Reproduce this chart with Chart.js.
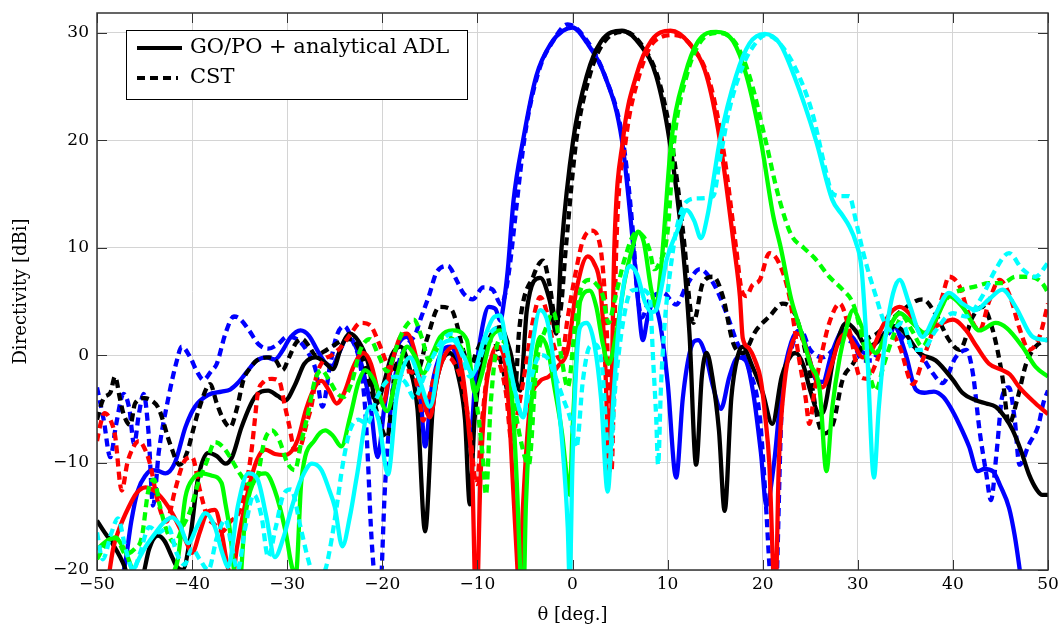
<!DOCTYPE html>
<html>
<head>
<meta charset="utf-8">
<script src="https://cdn.jsdelivr.net/npm/chart.js@4.4.1/dist/chart.umd.min.js"></script>
<style>
  html, body { margin:0; padding:0; background:#fff; }
  #wrap { width:1061px; height:627px; }
</style>
</head>
<body>
<div id="wrap"><canvas id="chart" width="1061" height="627"></canvas></div>
<script>
// ---------- DATA (theta [deg], directivity [dBi]) ----------
const X_TICKS = [-50,-40,-30,-20,-10,0,10,20,30,40,50];
const Y_TICKS = [-20,-10,0,10,20,30];
const LEGEND_LABELS = ["GO/PO + analytical ADL", "CST"];

// beam 0 deg (blue)
const blueGo = [[-50,-27],[-48.5,-23],[-47.1,-19.7],[-46.4,-15.5],[-45.7,-12.6],[-44.9,-11.2],[-44.2,-10.7],[-43.5,-10.8],[-42.8,-11],[-41.8,-10],[-40.7,-6.7],[-39.7,-4.8],[-38.3,-3.7],[-36.9,-3.4],[-36,-3.2],[-35.2,-2.6],[-34.2,-1.5],[-33.2,-0.5],[-32.2,-0.2],[-31.3,-0.4],[-30.5,0.4],[-29.7,1.6],[-28.6,2.3],[-27.7,1.8],[-26.8,0.4],[-26,-0.7],[-25.3,-1],[-24.5,0.3],[-23.7,1.6],[-22.9,1],[-22,-1.5],[-21.2,-5],[-20.5,-9.5],[-19.8,-5],[-19,-0.8],[-18.2,1.2],[-17.4,1.7],[-16.7,0.3],[-16,-3.5],[-15.5,-8.5],[-14.8,-3],[-13.8,0.2],[-12.8,0.8],[-11.9,-1.5],[-11.3,-5],[-10.8,-8.5],[-10.2,-2],[-9.5,2.5],[-8.8,4.5],[-8.1,4.3],[-7.6,3.2],[-7.2,5],[-6.8,8],[-6.2,14.4],[-5.2,20],[-3.8,26],[-2.2,29.1],[-1,30.2],[0,30.5],[1.5,29.1],[3.4,26],[5.2,20],[6.4,10],[6.9,5],[7.4,1.4],[7.9,3.5],[8.5,4.8],[9.2,3],[10,-2.5],[10.9,-11.4],[11.6,-4],[12.4,0.5],[13.2,1.4],[14,0],[14.8,-3],[15.6,-5],[16.5,-2],[17.4,-0.2],[18.2,-0.5],[19,-3.5],[19.8,-9],[20.4,-14],[21.2,-10],[22,-3],[23,1.2],[23.9,2.3],[24.8,0],[25.6,-2.3],[26.3,-2.5],[27.3,0.3],[28.5,2.3],[29.5,1.6],[30.7,0.2],[32,1.2],[33.8,2.7],[35,0.2],[36.1,-3.2],[37,-3.5],[38,-3.4],[39,-3.9],[39.7,-4.8],[40.7,-6.5],[41.7,-8.5],[42.6,-10.8],[43.3,-10.6],[44.2,-10.8],[45,-12.2],[45.9,-14.2],[46.5,-16.8],[47,-19.8],[47.6,-24]];
const blueCst = [[-50,-3],[-49.3,-6],[-48.6,-9.5],[-48,-6.5],[-47.2,-3.6],[-46.6,-5],[-46.1,-8.3],[-45.6,-5.5],[-45.1,-3.6],[-44.6,-7],[-44.1,-14],[-43.5,-9],[-42.5,-4],[-41.6,-0.5],[-41.1,0.8],[-40.2,-0.2],[-39.5,-1.5],[-38.8,-2.3],[-38,-1.5],[-37.4,-0.8],[-36.5,2],[-35.6,3.6],[-35,3.4],[-34,2.3],[-33,1],[-32,0.6],[-31,1],[-30,1.7],[-29,1.5],[-28,0.5],[-27,-1.4],[-26.3,-4.8],[-25.5,-1],[-24.8,1.8],[-24,2.7],[-23.2,1.5],[-22.3,-1],[-21.8,-5],[-21.5,-10],[-21.2,-16],[-20.9,-20],[-20.4,-25],[-19.7,-12],[-19,-4],[-18.2,-0.5],[-17.3,1],[-16.5,2],[-16,3.3],[-15.1,5.5],[-14.3,7.7],[-13.1,8.3],[-12.2,7],[-11.5,5.8],[-10.5,5.2],[-9.4,6.3],[-8.4,6.1],[-7.5,4.7],[-7,6],[-6.5,9],[-6,13],[-5,20.5],[-3.6,26.3],[-2,29.3],[-0.5,30.8],[1.5,29.3],[3.4,26],[5.3,20],[6.3,12],[6.8,6],[7.3,3.5],[8,5],[9.5,5.8],[10.9,4.7],[12,6.5],[13.4,8],[14.8,6.7],[16.2,3.9],[17.2,1.4],[18.6,-1.4],[19.7,-5.8],[20.3,-13.3],[20.7,-19.5],[21.2,-26],[22,-5],[23,0.5],[24,2.3],[25,0.5],[26.3,-0.2],[27.4,0.5],[28.4,1.4],[29.5,1.1],[30.5,-0.5],[31.5,-0.5],[32.5,1],[33.7,2.3],[34.7,1.7],[36.5,0.2],[37.9,-1.7],[38.9,-2.6],[40.3,-0.2],[41.4,0.5],[42.1,-1.7],[42.8,-7],[43.5,-11],[44,-13.5],[44.6,-9],[45.2,-3.8],[45.9,-3],[46.5,-6],[47,-10.2],[48,-8.3],[49,-6.5],[49.5,-4.5],[50,-3.3]];

// beam 5 deg (black)
const blackGo = [[-50,-15.4],[-49.2,-16.5],[-48.4,-17.5],[-47.1,-19.7],[-46.3,-22],[-45.3,-21],[-44.5,-18],[-43.6,-16.8],[-42.9,-17.3],[-42.1,-18.8],[-41.6,-19.7],[-41,-20],[-40.2,-17],[-39.4,-11.6],[-38.3,-9.1],[-37.4,-9.4],[-36.5,-10.1],[-35.8,-9.5],[-34.8,-6.7],[-33.4,-3.9],[-32,-3.3],[-31,-3.8],[-30.2,-4.2],[-29.2,-2.8],[-28.2,-0.8],[-27,-0.2],[-26,-0.7],[-25.2,-1.3],[-24.3,0.8],[-23.4,2],[-22.5,1.3],[-21.5,-0.7],[-20.6,-4.5],[-19.8,-2.5],[-19,0],[-18.1,0.8],[-17.2,-1],[-16.3,-5],[-15.5,-16.4],[-14.7,-5],[-13.9,-1],[-12.9,0.2],[-12,-2],[-11.3,-6],[-10.8,-13.9],[-10.3,-6],[-9.5,-0.5],[-8.5,2],[-7.6,2.6],[-6.6,0.5],[-5.5,-3.3],[-4.8,4.2],[-3.4,7.2],[-2.4,5.1],[-1.7,2],[-1.15,10],[0.07,20],[1.5,26],[3,29.2],[5.2,30.2],[7.2,28.8],[8.8,26],[10.2,20],[11.6,10],[12.3,2],[13,-10.2],[13.6,-2],[14.1,0.2],[14.7,-2],[15.4,-7],[16,-14.5],[16.7,-4],[17.4,0],[17.9,0.8],[18.8,-0.8],[20,-3.5],[21,-6.4],[22,-2],[23,0],[23.5,0.2],[24.3,-1],[25,-3.3],[26,-5.5],[26.5,-5],[27.5,0],[28.8,3],[30,2],[30.9,0.8],[32,1.2],[33,2.2],[34,2.7],[35,2],[36.5,0.2],[38.2,-0.5],[40,-2.3],[41,-3.5],[42.4,-4.2],[43.5,-4.5],[44.5,-4.8],[45.5,-5.8],[46.3,-7],[47.2,-9],[48,-11.1],[48.8,-12.5],[49.4,-13],[50,-13]];
const blackCst = [[-50,-6],[-49.3,-4],[-48.6,-3.5],[-48.1,-2],[-47.6,-4],[-47.2,-5.5],[-46.5,-6.5],[-46,-4.5],[-45,-4],[-44.3,-4.2],[-43.5,-5],[-42.3,-8.3],[-41.3,-10.2],[-40.5,-9],[-39.9,-7],[-39.2,-4.8],[-38.1,-2.7],[-37.4,-4.5],[-36.7,-6],[-36,-6.7],[-35.3,-5],[-34.6,-2.3],[-33.9,-1.2],[-33.2,-0.5],[-31.9,-0.2],[-31.2,-0.5],[-30.5,-1.4],[-29.8,-0.2],[-29.1,1.1],[-28.4,1.5],[-27.7,0.8],[-27,0],[-26.2,0.3],[-25.3,0.8],[-24.1,1.4],[-23.2,1.5],[-22.2,0],[-21.2,-3],[-20.5,-5.5],[-19.5,-7.7],[-18.5,-0.8],[-17.5,-0.8],[-16.4,-1.7],[-15.3,1.5],[-14,4.5],[-12.7,4.2],[-12.2,3],[-11.5,0.5],[-10.8,-1.1],[-10,0.5],[-9.4,1.4],[-8.4,1.4],[-7.3,-1.4],[-6.6,-4],[-6,-3],[-5.6,2.4],[-4.1,7.4],[-3.1,8.8],[-2.4,6.5],[-1.8,3.4],[-1.3,4],[-0.7,10],[0.4,20],[1.8,26],[3.2,29],[5.5,30.1],[7.5,28.6],[9.1,25.5],[10.4,20],[11.8,10],[12.3,5],[12.7,3],[13.7,6.7],[14.8,7.3],[15.8,5.5],[16.9,1.1],[17.9,0.2],[19.3,2.3],[20.7,3.6],[22.1,4.8],[23.5,3.6],[24.9,-1.4],[25.9,-6.4],[26.5,-7.3],[27.4,-6.4],[28.4,-2.3],[29.5,-0.8],[30.9,1.4],[32,2],[33.2,3],[34.7,4.2],[36.8,5.2],[38.2,3.8],[39.6,1.4],[40.7,0.5],[42.1,3.6],[43.1,4.5],[44.2,2.3],[45.2,-2],[45.9,-6.4],[46.8,-4],[47.7,-0.8],[48.7,0.8],[50,1.5]];

// beam 10 deg (red)
const redGo = [[-50,-27],[-49,-22],[-48.3,-18],[-47.8,-16.5],[-46.7,-14.2],[-45.8,-12.8],[-44.9,-12.3],[-43.6,-12.9],[-42.1,-14.7],[-40.7,-17.2],[-40,-18.4],[-39.2,-16.5],[-38.4,-14.6],[-37.6,-14.4],[-36.9,-16.5],[-36.3,-19.5],[-35.8,-21],[-35.3,-18],[-34.1,-12.6],[-33.2,-9.8],[-32.3,-8.8],[-31.3,-9.2],[-30.2,-9.3],[-28.9,-7.9],[-28,-5],[-27.1,-3],[-26.4,-2.4],[-25.6,-3.3],[-24.8,-4.5],[-24,-3.5],[-23,-1],[-22,0.2],[-21.2,-0.8],[-20.4,-3.5],[-19.9,-4.5],[-19.2,-1.5],[-18.1,1.7],[-17.4,2],[-16.5,0],[-15.7,-4],[-15,-5.8],[-14.2,-2],[-13.3,0.2],[-12.4,0.8],[-11.6,-1.5],[-10.9,-7],[-10.5,-12],[-10.3,-20],[-10.1,-24],[-9.7,-12],[-9.2,-4],[-8.6,-0.5],[-8,0.8],[-7.3,0.2],[-6.8,-3.5],[-6.3,-11.4],[-5.9,-18],[-5.6,-22],[-5.2,-14],[-4.5,-5],[-3.5,-2.5],[-2.5,-2],[-1.5,-1],[-0.5,0.5],[0.4,6],[1.6,9.2],[2.3,8.5],[2.9,6.5],[3.4,0],[3.9,-10.8],[4.4,10],[5.3,20],[6.7,26],[8.3,29.3],[10.3,30.2],[12.3,29],[14.1,26],[15.5,20],[17,10],[17.6,5.5],[17.9,1.6],[18.5,0.7],[19.2,-0.5],[19.8,-2.3],[20.3,-6],[20.7,-10.2],[21.1,-20],[21.3,-24],[21.7,-10],[22.3,-2.5],[23,0.8],[23.8,2],[24.5,0.8],[25.3,-1.5],[26.3,-3],[27.2,-1],[28,1.3],[28.8,2],[29.6,1],[30.5,-0.2],[31.5,0.5],[32.5,2.5],[33.5,4],[34.4,4.5],[35.4,3.9],[36.8,2],[37.8,2.5],[38.9,3],[40,3.3],[41.4,2.3],[42.5,0.8],[43.8,-0.8],[45.2,-1.4],[46,-1.8],[47,-3],[48.7,-4.5],[50,-5.5]];
const redCst = [[-50,-8],[-49.6,-6.3],[-49.2,-5.4],[-48.6,-6],[-48.1,-7.5],[-47.4,-12.6],[-46.8,-10],[-46.2,-8.6],[-45.6,-8],[-45.1,-8.5],[-44.4,-10.2],[-43.7,-13.3],[-42.7,-15.5],[-41.8,-12.6],[-40.9,-10],[-40,-9.5],[-39.2,-12.5],[-38.4,-15],[-37.6,-15.8],[-36.8,-16.4],[-36,-15.5],[-35,-14.5],[-34.1,-11],[-33.7,-8.5],[-33.4,-6],[-33.1,-3.6],[-32.5,-2.5],[-31.6,-2.2],[-30.8,-2.5],[-30.3,-4.5],[-29.8,-6.5],[-29.2,-8.8],[-28.6,-8.5],[-28,-6.5],[-27.4,-4.5],[-27,-2.2],[-26.2,-0.5],[-25.3,0],[-24.3,0.8],[-23.3,2],[-22.3,3],[-21.3,2.8],[-20.3,1],[-19.4,-1],[-18.4,-2],[-17.4,-1.5],[-16.7,-1.7],[-16.2,-3.5],[-15.7,-6.1],[-15.1,-4],[-14.2,-1],[-13.2,-0.2],[-12.6,-0.5],[-11.5,-3],[-10.8,-7],[-10.1,-12],[-9.5,-6],[-9,-2],[-8.3,0],[-7.6,-1],[-7,-3.5],[-6.4,-8],[-5.8,-5.5],[-5,-1.5],[-4.2,3],[-3.4,5.4],[-2.7,4],[-2,1],[-1.2,-0.5],[-0.5,3.5],[0.4,8],[1.1,10.7],[2,11.6],[2.9,10.2],[3.6,2.3],[4.1,-10.8],[4.6,10],[5.6,20],[7,26],[8.6,29.2],[10.8,29.8],[12.6,28.7],[14.4,25.5],[15.8,19.5],[17.2,10],[17.8,6],[18.3,5.5],[18.9,6.5],[19.7,7],[20.7,9.5],[21.7,8.6],[22.8,5.5],[23.8,-0.2],[24.5,-3.9],[24.9,-6.4],[25.5,-3],[26.3,0.5],[27,3],[28.1,4.8],[29.2,2],[30.2,-2],[31,-2.2],[31.9,-0.8],[33.3,2.3],[34.4,0.8],[35.8,-2.7],[36.8,-0.5],[37.9,2.3],[38.9,5.5],[39.6,7.3],[40.7,6.4],[41.6,4],[42.8,2.3],[43.8,5],[44.9,7],[46,5.5],[47,2.5],[48,0.5],[49.1,1.7],[50,4.8]];

// beam 15 deg (green)
const greenGo = [[-50,-18.1],[-49,-17.3],[-48.1,-17],[-47.3,-17.8],[-46.4,-19.7],[-45.6,-23],[-44.5,-25],[-43.2,-23],[-42.1,-20.5],[-41.5,-19],[-40.7,-13.2],[-39.9,-11.5],[-39,-11],[-38,-11.2],[-36.9,-11.9],[-36.5,-13.8],[-36,-16.5],[-35.6,-20],[-35.2,-23],[-34.4,-15],[-33.4,-11.6],[-32.3,-11],[-31.3,-12.6],[-30.2,-16.3],[-29.5,-19.7],[-29.1,-20.5],[-28.5,-11.6],[-27.1,-7.9],[-26,-7],[-25.2,-7.5],[-24.3,-8.5],[-23.4,-5.8],[-22.5,-2.5],[-21.8,-1.4],[-20.9,-2.3],[-19.5,-5.2],[-18.5,-2],[-17.4,0.8],[-16.5,-0.2],[-15.7,-1.7],[-14.8,0],[-13.9,1.7],[-12.6,2.3],[-11.1,1.4],[-10.3,-3.5],[-9.6,-2],[-8.6,1.5],[-7.6,2.3],[-6.8,0],[-6.2,-6],[-5.8,-13],[-5.5,-20],[-5.2,-24],[-4.9,-14],[-4.2,-3],[-3.4,1.7],[-2.6,0.5],[-1.9,-3],[-1.1,-7.3],[-0.6,-11.3],[-0.3,-13],[0,-7],[0.4,0],[0.8,5],[1.8,6],[2.5,4.5],[3.2,1],[3.8,-0.8],[4.6,2],[5.5,7],[6.3,10],[6.9,11.5],[7.5,10.5],[8.3,6],[8.8,4.5],[9.2,7],[9.5,10],[10.4,20],[11.8,26],[13.2,29.2],[15.1,30.1],[16.9,29.2],[18.3,26],[19.8,20],[21.1,13],[21.9,10],[23,5.2],[24,2.3],[25,-0.8],[26,-3.3],[26.7,-10.8],[27.3,-5],[28.1,-0.2],[28.8,2.5],[29.5,4.2],[30.5,2.5],[31.9,0.2],[33,2],[34.4,3.9],[35.5,3.2],[37.2,2],[38.3,3.5],[39.6,5.5],[41,4.5],[42.8,2.3],[44.5,3],[45.7,2.5],[47.3,0.8],[48.7,-1.1],[50,-2]];
const greenCst = [[-50,-19],[-49,-17.5],[-48,-17],[-47,-18.5],[-46,-18],[-45.3,-17],[-44.6,-12.6],[-44,-11.6],[-43.4,-14],[-42.6,-16.5],[-41.8,-17.5],[-41,-16],[-40.2,-14.5],[-39.4,-12],[-38.5,-10],[-37.6,-8.1],[-36.7,-8.6],[-36,-9.5],[-35,-11],[-34,-12],[-33.2,-11.5],[-32.4,-8],[-31.6,-7],[-30.8,-8],[-30,-10],[-29.2,-10.7],[-28.5,-8],[-27.8,-5.4],[-27.1,-2.4],[-26.4,-1.4],[-25.6,-2.3],[-24.8,-3.5],[-24.1,-3.9],[-23.2,-2.5],[-22.3,0.5],[-21.3,1.5],[-20.4,0],[-19.5,-1.5],[-18.6,0.5],[-17.8,2.3],[-16.7,3.3],[-15.8,1.5],[-15.1,-0.5],[-14.3,0.5],[-13.6,1.7],[-12.6,1.5],[-11.6,0.5],[-10.6,-2],[-10,-5],[-9.4,-9.8],[-9.1,-13],[-8.6,-4.5],[-7.7,1.4],[-7,1],[-6.3,-3.5],[-5.5,-7.7],[-4.6,-10.2],[-3.8,-1],[-2.8,2.5],[-2,4],[-1.2,0],[-0.5,-3],[0.3,3],[0.9,6.2],[1.8,7],[2.6,6.5],[3.2,5.5],[3.8,3],[4.4,5],[5.5,9],[6.7,11.4],[7.5,11],[8.1,9.8],[8.6,8],[9.1,8.5],[10,11.5],[10.7,20],[12,26],[13.4,29.1],[15.3,30],[17.1,29.1],[18.6,26],[20.3,20],[21.6,15],[23,11.2],[24.3,10],[25.5,9],[27,7.3],[28.4,6.1],[29.5,4.8],[30.5,1.5],[31.3,-2],[31.9,-3.3],[32.7,-1],[33.7,1.7],[34.7,3.6],[35.7,2.3],[36.8,0.8],[38.2,3.6],[39.6,5.5],[41,6.1],[42.4,6.4],[43.8,6.7],[45.2,6.7],[46.6,7.3],[48,7.3],[49.4,6.7],[50,5.8]];

// beam 20 deg (cyan)
const cyanGo = [[-50,-24],[-48.5,-25],[-47,-22],[-46,-19.7],[-45,-18],[-43.9,-16.6],[-43,-15.6],[-42.1,-15.1],[-41.3,-15.8],[-40.4,-17.5],[-39.5,-16],[-38.6,-14.7],[-37.6,-16],[-36.8,-18.5],[-36.2,-19.7],[-35.2,-14.1],[-34.1,-11],[-33.1,-11.6],[-32.2,-15],[-31.3,-18.8],[-30.4,-17],[-29.5,-14.1],[-28.5,-11.5],[-27.4,-10.1],[-26.4,-10.7],[-25.6,-12.5],[-25,-14.1],[-24.2,-17.8],[-23.4,-15],[-22.7,-11.4],[-21.3,-4.8],[-20.4,-6],[-19.4,-11.1],[-18.5,-3.9],[-17.1,-0.2],[-16,-2.5],[-15,-4.8],[-13.6,1.1],[-12.6,1.4],[-11.5,0],[-10.5,-1.7],[-9.3,1.5],[-8.3,3.5],[-7.6,3.7],[-6.8,0],[-6,-3.5],[-5.2,-5.8],[-4.3,0.5],[-3.4,4.2],[-2.6,3],[-1.8,-2],[-1.1,-8],[-0.5,-16],[-0.3,-21],[0,-10],[0.4,-1],[0.8,2.6],[1.5,3],[2.3,1],[3,-4],[3.7,-12.7],[4.3,-4],[5,4],[6,8.3],[6.8,7.5],[7.6,5],[8.3,4],[8.8,4.2],[9.4,6.5],[9.9,8.9],[11,11.5],[12,13.5],[12.8,12.5],[13.5,10.9],[14.2,13],[15.5,20],[17.2,26],[18.6,29],[20.2,29.9],[21.8,29],[23.3,26],[25.6,20],[27.3,14.5],[28.4,13],[29.1,12],[29.8,10.5],[30.4,8],[31,0],[31.7,-11.4],[32.2,-5],[33,2.3],[34.4,7],[35.4,4.8],[36.8,1.7],[38,3.5],[39.6,5.8],[41,4.8],[42.4,4.2],[43.8,5.2],[45.2,6.1],[46.6,4.5],[48.4,1.7],[50,1.4]];
const cyanCst = [[-50,-16.5],[-49.4,-19],[-48.5,-16.6],[-47.8,-15.2],[-47,-18],[-46.2,-20],[-45.5,-18.5],[-44.5,-16],[-43.5,-16.5],[-42.5,-16],[-41.6,-18.5],[-40.8,-19.5],[-40,-18],[-39.2,-19],[-38.3,-20],[-37.4,-17],[-36.5,-15.3],[-35.8,-18],[-35.2,-20],[-34.4,-16],[-33.5,-13],[-32.7,-15],[-32,-18.8],[-31.2,-16],[-30.4,-13],[-29.6,-12.5],[-28.6,-16],[-27.8,-19],[-27,-21],[-26,-20],[-25.3,-17],[-24.7,-13.5],[-24.2,-10.4],[-23.4,-7],[-22.5,-6],[-21.6,-6.4],[-20.6,-4],[-19.6,-2.5],[-18.6,-2],[-17.6,-2.5],[-16.6,-4],[-15.6,-2],[-14.6,0],[-13.6,1.5],[-12.6,2],[-11.6,0],[-10.8,-2],[-10,-1],[-9,1.5],[-8,2.5],[-7,0],[-6,-3.5],[-5.2,-5.8],[-4.3,-2],[-3.4,0],[-2.7,-0.2],[-1.8,-2],[-1,-4],[-0.2,-6],[0.4,-8.6],[1.1,-2.3],[1.8,0.8],[2.4,1],[3.1,-1],[3.9,-10.2],[4.5,-3],[5.3,3],[6.2,6],[7.1,6.1],[8.1,5.5],[8.5,-0.8],[8.8,-5.8],[9,-10.2],[9.3,-3],[9.7,3],[10.3,8],[11,12],[12,14.3],[13.2,14.6],[14.8,14.8],[15.5,18.2],[16.5,22.9],[17.9,26.9],[19.3,29.1],[20.3,29.8],[21.7,29.1],[23.5,26.6],[25.2,22.6],[26.6,17.3],[27.3,15.1],[28.3,14.8],[29.1,14.8],[29.8,12.5],[30.5,9.8],[31.2,7.5],[31.9,5.5],[32.6,3.5],[33.5,2.3],[34.7,3],[35.8,0.5],[36.8,0.5],[38.2,2.3],[40,3.9],[41.4,3.6],[43.1,5.5],[44.5,8],[45.9,9.5],[47.3,8],[48.7,7.3],[50,8.6]];

// ---------- STYLE ----------
const FONT = '"DejaVu Serif", "Liberation Serif", serif';
const DASH = [8,5];

function toPoints(arr){ return arr.map(p=>({x:p[0], y:p[1]})); }

function line(data, color, dashed, order){
  return {
    data: toPoints(data),
    borderColor: color,
    borderWidth: 4.3,
    borderDash: dashed ? DASH : [],
    pointRadius: 0,
    fill: false,
    cubicInterpolationMode: 'monotone',
    clip: 0,
    order: order
  };
}

// ---------- PLUGINS ----------
const frameAndLegend = {
  id: 'frameAndLegend',
  afterDraw(chart){
    const {ctx, chartArea:a, scales} = chart;
    ctx.save();
    // inward tick marks
    ctx.strokeStyle = '#333';
    ctx.lineWidth = 1;
    ctx.beginPath();
    X_TICKS.forEach(v=>{
      const x = Math.round(scales.x.getPixelForValue(v)) + 0.5;
      ctx.moveTo(x, a.bottom); ctx.lineTo(x, a.bottom - 10);
      ctx.moveTo(x, a.top); ctx.lineTo(x, a.top + 10);
    });
    Y_TICKS.forEach(v=>{
      const y = Math.round(scales.y.getPixelForValue(v)) + 0.5;
      ctx.moveTo(a.left, y); ctx.lineTo(a.left + 10, y);
      ctx.moveTo(a.right, y); ctx.lineTo(a.right - 10, y);
    });
    ctx.stroke();
    // box
    ctx.lineWidth = 1.5;
    ctx.strokeStyle = '#333';
    ctx.strokeRect(a.left, a.top, a.right - a.left, a.bottom - a.top);

    // legend
    const lx = 126, ly = 30, lw = 341, lh = 69;
    ctx.fillStyle = '#fff';
    ctx.fillRect(lx, ly, lw, lh);
    ctx.lineWidth = 1;
    ctx.strokeStyle = '#000';
    ctx.strokeRect(lx + 0.5, ly + 0.5, lw, lh);
    ctx.lineWidth = 4;
    ctx.beginPath();
    ctx.setLineDash([]);
    ctx.moveTo(137, 48); ctx.lineTo(182, 48);
    ctx.stroke();
    ctx.beginPath();
    ctx.setLineDash([8,5]);
    ctx.moveTo(137, 78); ctx.lineTo(178, 78);
    ctx.stroke();
    ctx.setLineDash([]);
    ctx.fillStyle = '#000';
    ctx.font = '21px ' + FONT;
    ctx.textBaseline = 'middle';
    ctx.textAlign = 'left';
    ctx.fillText(LEGEND_LABELS[0], 190, 48);
    ctx.fillText(LEGEND_LABELS[1], 190, 78);
    ctx.restore();
  }
};

// ---------- CHART ----------
const minus = v => String(v).replace('-', '\u2212');

new Chart(document.getElementById('chart'), {
  type: 'line',
  data: {
    datasets: [
      line(cyanGo,  '#00ffff', false, 1),
      line(cyanCst, '#00ffff', true,  2),
      line(greenGo, '#00ff00', false, 3),
      line(greenCst,'#00ff00', true,  4),
      line(redGo,   '#ff0000', false, 5),
      line(redCst,  '#ff0000', true,  6),
      line(blackGo, '#000000', false, 7),
      line(blackCst,'#000000', true,  8),
      line(blueGo,  '#0000ff', false, 9),
      line(blueCst, '#0000ff', true,  10)
    ]
  },
  options: {
    responsive: false,
    animation: false,
    devicePixelRatio: 1,
    layout: { padding: { top: 13, right: 13, left: 0, bottom: 0 } },
    plugins: { legend: { display: false }, tooltip: { enabled: false } },
    scales: {
      x: {
        type: 'linear', min: -50, max: 50,
        afterBuildTicks: s => { s.ticks = X_TICKS.map(v=>({value:v})); },
        afterFit: s => { s.height = 57; s.paddingLeft = 0; s.paddingRight = 0; },
        grid: { color: '#d4d4d4', drawTicks: false },
        border: { display: false },
        ticks: { color: '#000', padding: 4, font: { family: FONT, size: 17 }, callback: minus, maxRotation: 0 },
        title: { display: true, text: 'θ [deg.]', color: '#000', font: { family: FONT, size: 18 }, padding: { top: 0, bottom: 1 } }
      },
      y: {
        type: 'linear', min: -20, max: 31.85,
        afterBuildTicks: s => { s.ticks = Y_TICKS.map(v=>({value:v})); },
        afterFit: s => { s.width = 97; s.paddingTop = 0; s.paddingBottom = 0; },
        grid: { color: '#d4d4d4', drawTicks: false },
        border: { display: false },
        ticks: { color: '#000', padding: 8, font: { family: FONT, size: 17 }, callback: minus },
        title: { display: true, text: 'Directivity [dBi]', color: '#000', font: { family: FONT, size: 18 }, padding: { top: 11, bottom: 0 } }
      }
    }
  },
  plugins: [frameAndLegend]
});
</script>
</body>
</html>
